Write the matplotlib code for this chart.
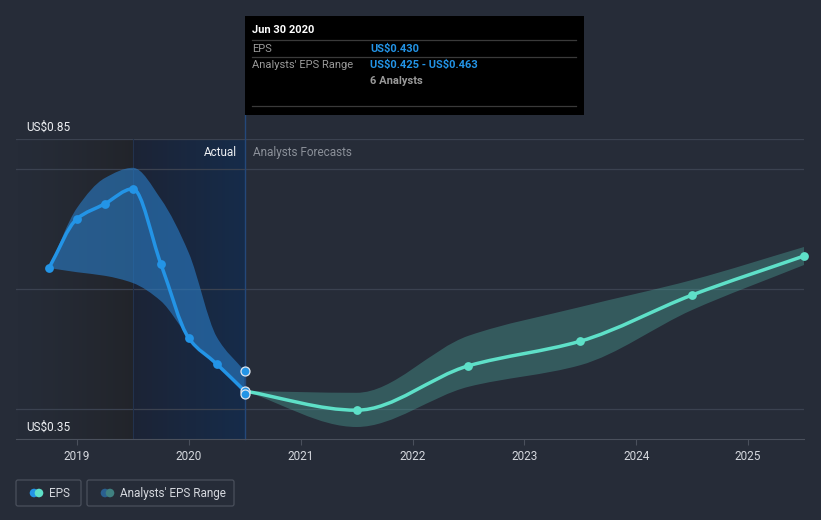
import numpy as np
import matplotlib
matplotlib.use('Agg')
import matplotlib.pyplot as plt
from matplotlib.path import Path
from matplotlib.patches import PathPatch, Rectangle, FancyBboxPatch, Circle

plt.rcParams['font.family'] = ['Roboto', 'DejaVu Sans']
plt.rcParams['text.parse_math'] = False

# actual EPS (quarterly, trailing) and the analysts' range around it
x_act = [2018.75, 2019.0, 2019.25, 2019.5, 2019.75, 2020.0, 2020.25, 2020.5]
eps_act = [0.635, 0.717, 0.742, 0.767, 0.642, 0.518, 0.475, 0.430]
act_high = [0.635, 0.735, 0.785, 0.802, 0.750, 0.660, 0.520, 0.463]
act_low = [0.635, 0.628, 0.622, 0.610, 0.580, 0.520, 0.475, 0.425]

# forecasts
x_fc = [2020.5, 2021.5, 2022.5, 2023.5, 2024.5, 2025.5]
eps_fc = [0.430, 0.398, 0.472, 0.513, 0.590, 0.655]
fc_high = [0.430, 0.427, 0.522, 0.570, 0.615, 0.670]
fc_low = [0.430, 0.370, 0.437, 0.473, 0.565, 0.640]

# last reported point, range of estimates
last_x = 2020.5
last_vals = [0.463, 0.430, 0.425]

years = [2019, 2020, 2021, 2022, 2023, 2024, 2025]
ylo, yhi = 0.35, 0.85
xlo, xhi = 2018.455, 2025.5
hl_start = 2019.5

BG = '#262c38'
BLUE = '#2394e6'
TEAL = '#5ee0c8'

#monotone cubic bezier path through points (Fritsch-Carlson tangents)
def smooth_verts(x, y):
  x = np.asarray(x, float); y = np.asarray(y, float)
  h = np.diff(x); d = np.diff(y) / h
  m = np.zeros(len(x))
  m[0], m[-1] = d[0], d[-1]
  for i in range(1, len(x) - 1):
    if d[i-1] * d[i] <= 0: m[i] = 0
    else:
      w1 = 2*h[i] + h[i-1]; w2 = h[i] + 2*h[i-1]
      m[i] = (w1 + w2) / (w1/d[i-1] + w2/d[i])
  verts = [(x[0], y[0])]
  for i in range(len(x) - 1):
    verts.append((x[i] + h[i]/3, y[i] + m[i]*h[i]/3))
    verts.append((x[i+1] - h[i]/3, y[i+1] - m[i+1]*h[i]/3))
    verts.append((x[i+1], y[i+1]))
  return verts

def line_path(x, y):
  v = smooth_verts(x, y)
  return Path(v, [Path.MOVETO] + [Path.CURVE4]*(len(v)-1))

def band_path(x, lo, hi):
  up = smooth_verts(x, hi)
  dn = smooth_verts(x[::-1], lo[::-1])
  v = up + [dn[0]] + dn[1:] + [up[0]]
  codes = [Path.MOVETO] + [Path.CURVE4]*(len(up)-1) + [Path.LINETO] + [Path.CURVE4]*(len(dn)-1) + [Path.CLOSEPOLY]
  return Path(v, codes)

fig = plt.figure(figsize=(8.21, 5.2), dpi=100)
fig.patch.set_facecolor(BG)
ax = fig.add_axes([16/821, 81/520, 788/821, 300/520])
ax.set_facecolor(BG)

# background shading: darker past, blue highlight for the last year of actuals
g = np.linspace(0, 1, 200)
dark = np.zeros((1, 200, 4))
dark[..., 0] = 0.13; dark[..., 1] = 0.14; dark[..., 2] = 0.16
dark[..., 3] = g**1.3 * 0.85
ax.imshow(dark, extent=[xlo, hl_start, ylo, yhi], aspect='auto', zorder=0.5, interpolation='bilinear')
hl = np.zeros((1, 200, 4))
hl[..., 0] = 0.11 - 0.025*g; hl[..., 1] = 0.14 + 0.03*g; hl[..., 2] = 0.21 + 0.08*g
hl[..., 3] = 1
ax.imshow(hl, extent=[hl_start, last_x, ylo, yhi], aspect='auto', zorder=0.6, interpolation='bilinear')
ax.set_xlim(xlo, xhi)
ax.set_ylim(ylo, yhi)

for v in [0.4, 0.6, 0.8, 0.85]:
  ax.axhline(v, color='#3b4250', lw=0.9, zorder=1)
ax.axvline(hl_start, color='#22324d', lw=0.8, zorder=1)
ax.plot([last_x, last_x], [ylo, 0.89], color='#24487a', lw=1, zorder=1, clip_on=False)

ax.add_patch(PathPatch(band_path(x_act, act_low, act_high), facecolor='#2a7bc4', edgecolor='none', alpha=0.62, zorder=2))
ax.add_patch(PathPatch(band_path(x_fc, fc_low, fc_high), facecolor='#4fb0a4', edgecolor='none', alpha=0.35, zorder=2))

ax.add_patch(PathPatch(line_path(x_fc, eps_fc), facecolor='none', edgecolor=TEAL, lw=2.5, zorder=3, capstyle='round'))
ax.add_patch(PathPatch(line_path(x_act, eps_act), facecolor='none', edgecolor=BLUE, lw=2.5, zorder=4, capstyle='round'))
ax.scatter(x_act, eps_act, s=40, color=BLUE, zorder=5, linewidths=0)
ax.scatter(x_fc[1:], eps_fc[1:], s=40, color=TEAL, zorder=5, linewidths=0, clip_on=False)
ax.scatter([last_x]*3, last_vals, s=42, color=BLUE, edgecolors='#dfe6ef', linewidths=0.9, zorder=6, clip_on=False)

ax.text(last_x - 0.07, 0.827, 'Actual', color='#eef0f3', fontsize=8.5, ha='right', va='center', zorder=6)
ax.text(last_x + 0.07, 0.827, 'Analysts Forecasts', color='#8b9099', fontsize=8.5, ha='left', va='center', zorder=6)
ax.text(xlo + 0.09, 0.87, 'US$0.85', color='#eef0f3', fontsize=8.5, ha='left', va='center')
ax.text(xlo + 0.09, 0.37, 'US$0.35', color='#eef0f3', fontsize=8.5, ha='left', va='center')

for s in ['top', 'right', 'left']:
  ax.spines[s].set_visible(False)
ax.spines['bottom'].set_color('#4a505c')
ax.set_yticks([])
ax.set_xticks(years)
ax.set_xticklabels([str(y) for y in years])
ax.tick_params(axis='x', colors='#4a505c', labelcolor='#d5d8de', labelsize=8.5, length=4, width=0.8, pad=4)

# overlay in pixel coordinates for tooltip + legend
ov = fig.add_axes([0, 0, 1, 1])
ov.set_xlim(0, 821); ov.set_ylim(520, 0)
ov.axis('off'); ov.patch.set_alpha(0)

ov.add_patch(Rectangle((245, 16), 339, 99, facecolor='#000000', edgecolor='none'))
for yy in [40, 57, 106]:
  ov.plot([252, 576], [yy, yy], color='#3a3a3a', lw=0.9)
ov.text(252, 30, 'Jun 30 2020', color='white', fontsize=8, fontweight='bold', va='center')
ov.text(252, 48.5, 'EPS', color='#9a9a9a', fontsize=8, va='center')
ov.text(370, 48.5, 'US$0.430', color='#2394e6', fontsize=8, fontweight='bold', va='center')
ov.text(252, 65, "Analysts' EPS Range", color='#9a9a9a', fontsize=8, va='center')
ov.text(370, 65, 'US$0.425 - US$0.463', color='#2394e6', fontsize=8, fontweight='bold', va='center')
ov.text(370, 81, '6 Analysts', color='#9a9a9a', fontsize=8, fontweight='bold', va='center')

# legend
for (x0, w, label, c1, c2) in [(16, 65, 'EPS', BLUE, TEAL), (87, 147, "Analysts' EPS Range", '#2a5f8f', '#3f8080')]:
  ov.add_patch(FancyBboxPatch((x0, 480), w, 26, boxstyle='round,pad=0,rounding_size=2', facecolor='none', edgecolor='#4a505c', lw=0.9))
  ov.add_patch(Circle((x0 + 18, 493), 4.3, color=c1, lw=0))
  ov.add_patch(Circle((x0 + 23, 493), 4.3, color=c2, lw=0))
  ov.text(x0 + 33, 493.5, label, color='#d5d8de', fontsize=8.5, va='center')

fig.savefig('out.png', dpi=100, facecolor=BG)
